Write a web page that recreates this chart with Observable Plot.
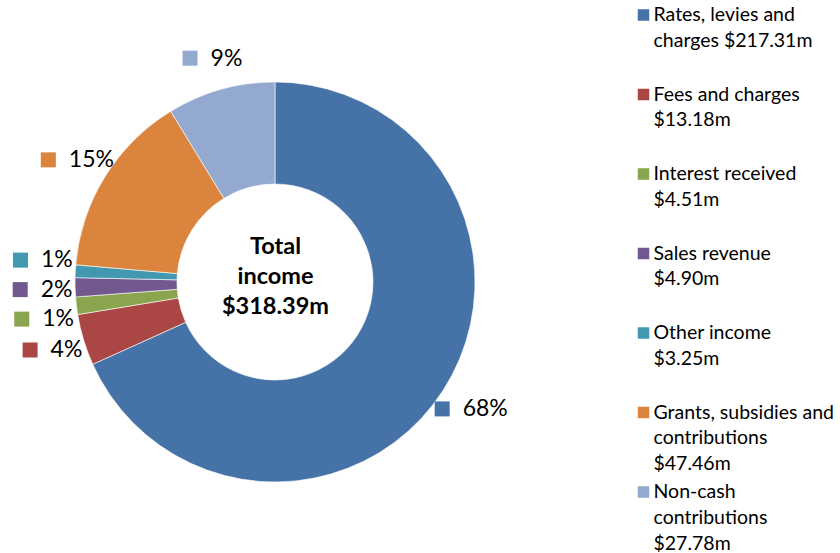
<!DOCTYPE html>
<html>
<head>
<meta charset="utf-8">
<script src="https://cdn.jsdelivr.net/npm/d3@7"></script>
<script src="https://cdn.jsdelivr.net/npm/@observablehq/plot@0.6"></script>
<style>
  html, body { margin: 0; padding: 0; background: #fff; }
  #chart { width: 840px; height: 553px; }
</style>
</head>
<body>
<div id="chart"></div>
<script>
// ---- Data ----
const categories = [
  "Rates, levies and charges",
  "Fees and charges",
  "Interest received",
  "Sales revenue",
  "Other income",
  "Grants, subsidies and contributions",
  "Non-cash contributions"
];
const values = [217.31, 13.18, 4.51, 4.90, 3.25, 47.46, 27.78];
const legendLabels = [
  "Rates, levies and\ncharges $217.31m",
  "Fees and charges\n$13.18m",
  "Interest received\n$4.51m",
  "Sales revenue\n$4.90m",
  "Other income\n$3.25m",
  "Grants, subsidies and\ncontributions\n$47.46m",
  "Non-cash\ncontributions\n$27.78m"
];
const colors = ["#4572A7", "#AA4643", "#89A54E", "#71588F", "#4198AF", "#DB843D", "#93A9CF"];

// ---- Layout ----
const W = 840, H = 553;
const CX = 275, CY = 282, R_OUT = 200, R_IN = 98, R_LABEL = 233;
const FONT = "Lato";
const FS_PCT = 23, FS_LEG = 19.5, FS_CENTER = 23.5;
const LH_LEG = 26, LH_CENTER = 30.5;

const total = d3.sum(values);
const rows = categories.map((c, i) => ({category: c, value: values[i], legend: legendLabels[i], i}));
const arcs = d3.pie().sort(null).value(d => d.value)(rows);

// measure text
const ctx = document.createElement("canvas").getContext("2d");
function textWidth(t, fs, weight = "normal") {
  ctx.font = `${weight} ${fs}px ${FONT}`;
  return ctx.measureText(t).width;
}

// percentage labels positioned along mid-angle, then de-overlapped
const SQ = 15, GAP = 13;
const labels = arcs.map(a => {
  const mid = (a.startAngle + a.endAngle) / 2;
  const pct = Math.round(a.data.value / total * 100) + "%";
  return {
    category: a.data.category,
    pct,
    bx: CX + R_LABEL * Math.sin(mid),
    by: CY - R_LABEL * Math.cos(mid),
    w: SQ + GAP + textWidth(pct, FS_PCT)
  };
});
const minGap = 29.5;
for (const side of [l => l.bx < CX, l => l.bx >= CX]) {
  const grp = labels.filter(side).sort((a, b) => a.by - b.by);
  for (let it = 0; it < 200; it++) {
    for (let k = 1; k < grp.length; k++) {
      const d = grp[k].by - grp[k - 1].by;
      if (d < minGap) {
        const push = (minGap - d) / 2;
        grp[k].by += push; grp[k - 1].by -= push;
      }
    }
  }
}
labels.forEach(l => {
  l.sqx = l.bx - l.w / 2 + SQ / 2;
  l.tx = l.bx - l.w / 2 + SQ + GAP;
});

// legend
const LEG_X_SQ = 643, LEG_X_TXT = 653, LEG_B0 = 20.5, LEG_STEP = 79.5;
const legend = rows.map((r, i) => ({
  category: r.category,
  text: r.legend,
  base: LEG_B0 + LEG_STEP * i
}));

const centerText = "Total\nincome\n$" + total.toFixed(2) + "m";

// donut render mark
function donut(index, scales) {
  const g = d3.create("svg:g");
  const cx = scales.x(CX), cy = scales.y(CY);
  const arcGen = d3.arc().innerRadius(R_IN).outerRadius(R_OUT);
  g.attr("transform", `translate(${cx},${cy})`)
    .selectAll("path").data(arcs).join("path")
    .attr("d", arcGen)
    .attr("fill", d => scales.color(d.data.category))
    .attr("stroke", "#ffffff")
    .attr("stroke-width", 0.6);
  return g.node();
}

const chart = Plot.plot({
  width: W,
  height: H,
  margin: 0,
  x: {domain: [0, W], range: [0, W], axis: null},
  y: {domain: [0, H], range: [0, H], axis: null},
  color: {domain: categories, range: colors},
  style: {fontFamily: FONT, background: "#fff", color: "#000"},
  marks: [
    donut,
    // percentage label squares
    Plot.dot(labels, {x: "sqx", y: "by", fill: "category", symbol: "square", r: SQ / Math.sqrt(Math.PI), stroke: null}),
    Plot.text(labels, {x: "tx", y: "by", text: "pct", textAnchor: "start", lineAnchor: "middle", fontSize: FS_PCT, fill: "#000"}),
    // center text
    Plot.text([centerText], {x: () => CX, y: () => 253 - 0.71 * LH_CENTER, text: d => d, lineAnchor: "top", lineHeight: LH_CENTER / FS_CENTER, fontSize: FS_CENTER, fontWeight: "bold", fill: "#000"}),
    // legend
    Plot.dot(legend, {x: () => LEG_X_SQ, y: d => d.base - 6, fill: "category", symbol: "square", r: 11.5 / Math.sqrt(Math.PI), stroke: null}),
    Plot.text(legend, {x: () => LEG_X_TXT, y: d => d.base - 0.71 * LH_LEG, text: "text", textAnchor: "start", lineAnchor: "top", lineHeight: LH_LEG / FS_LEG, fontSize: FS_LEG, fill: "#000"})
  ]
});
document.getElementById("chart").appendChild(chart);
</script>
</body>
</html>
